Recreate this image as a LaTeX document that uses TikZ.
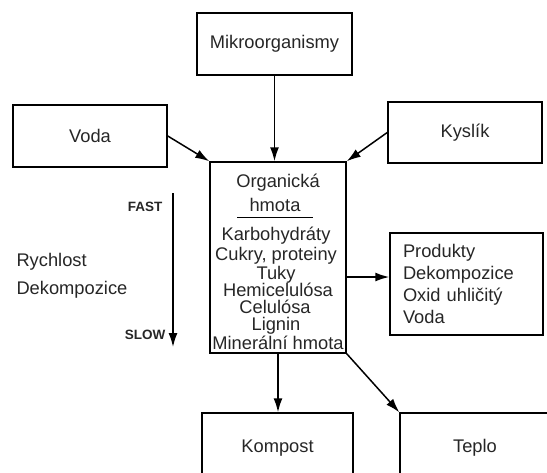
\documentclass[tikz,border=0pt]{standalone}
\usepackage{fontspec}
\setmainfont{Liberation Sans}
\usetikzlibrary{arrows.meta}
\usetikzlibrary{positioning}

\begin{document}
\begin{tikzpicture}[x=1pt, y=-1pt,
  font=\fontsize{18.3}{21}\selectfont, text=black!85,
  box/.style={draw, line width=1.5pt},
  arr/.style={line width=1.5pt, -{Latex[length=14pt,width=9pt]}}]
  \clip (0,0) rectangle (547,472);

  % boxes
  \node[box, minimum width=155pt, minimum height=62pt] (mikro)  at (274.5,44)  {Mikroorganismy};
  \node[box, minimum width=154pt, minimum height=62pt] (voda)   at (90,136)    {Voda};
  \node[box, minimum width=154pt, minimum height=61pt] (kyslik) at (465,132.5) {Kyslík};
  \node[box, minimum width=136pt, minimum height=191pt] (org)   at (278,257.5) {};
  \node[box, text width=127pt, inner xsep=13pt, minimum height=102pt, align=left,
        font=\fontsize{18.3}{22}\selectfont] (produkty) at (466.5,284)
        {Produkty\\Dekompozice\\Oxid uhličitý\\Voda};
  \node[box, minimum width=151pt, minimum height=70pt] (kompost) at (277.5,448) {Kompost};
  \node[box, minimum width=150pt, minimum height=70pt] (teplo)   at (475,448)   {Teplo};

  % obsah organicke hmoty
  \node (o1) at (278,183) {Organická};
  \node (o2) at (275,205) {hmota};
  \draw[line width=1pt] (237,217) -- (313,217);
  \node (o3) at (276,236) {Karbohydráty};
  \node (o4) at (276,256) {Cukry, proteiny};
  \node (o5) at (276,275) {Tuky};
  \node (o6) at (278,290) {Hemicelulósa};
  \node (o7) at (275,307) {Celulósa};
  \node (o8) at (276,326) {Lignin};
  \node (o9) at (278,343) {Minerální hmota};

  % rychlost
  \coordinate (fast) at (173,193);
  \coordinate (slow) at (173,347);
  \draw[arr] (fast) -- (slow);
  \node[font=\fontsize{13.5}{15}\bfseries] (fastlbl) at (145,207) {FAST};
  \node[font=\fontsize{13.5}{15}\bfseries] (slowlbl) at (145,335) {SLOW};
  \node[anchor=west] (rych) at (13,262) {Rychlost};
  \node[anchor=west] (dek)  at (13,290) {Dekompozice};

  % sipky
  \draw[arr] (mikro.south) -- (mikro.south |- org.north);
  \draw[arr] (voda.east) -- (org.north west);
  \draw[arr] (kyslik.west) -- (org.north east);
  \draw[arr] ([yshift=-19.5pt]org.east) -- ([yshift=7pt]produkty.west);
  \draw[arr] (org.south) -- (org.south |- kompost.north);
  \draw[arr] (org.south east) -- (teplo.north west);
\end{tikzpicture}
\end{document}
